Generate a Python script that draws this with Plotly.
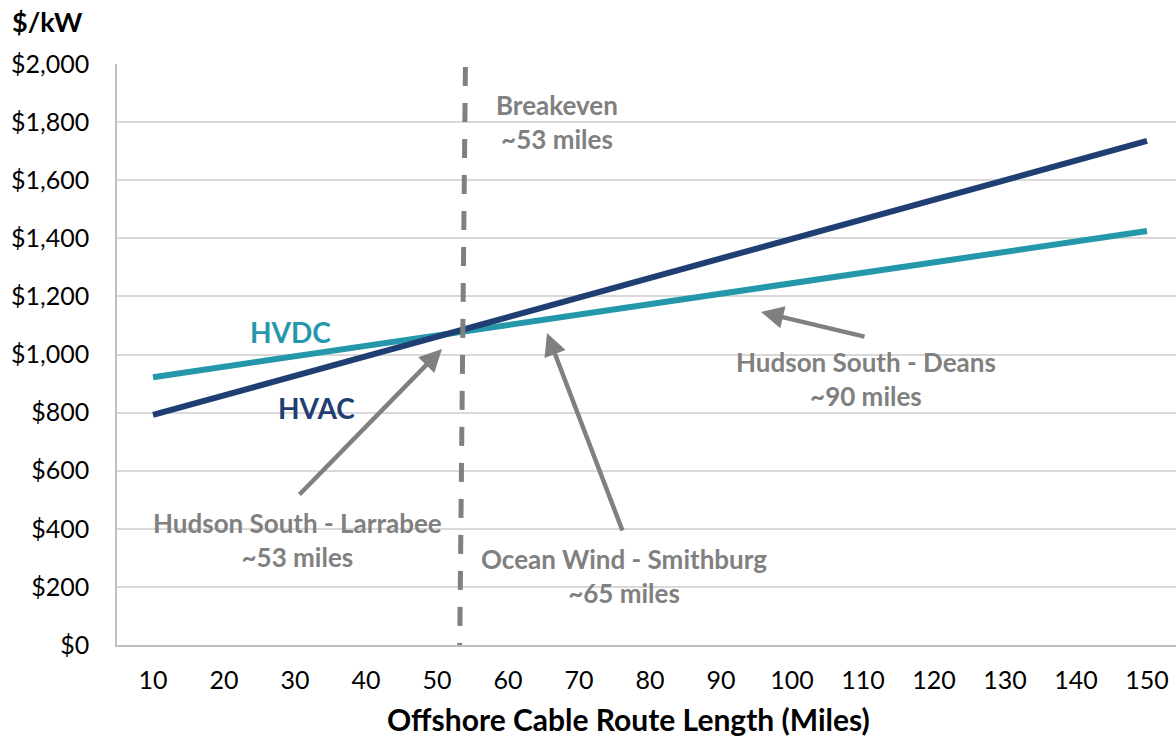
import plotly.graph_objects as go

miles = [10, 20, 30, 40, 50, 60, 70, 80, 90, 100, 110, 120, 130, 140, 150]
hvac = [792, 859, 927, 994, 1061, 1129, 1196, 1263, 1331, 1398, 1465, 1533, 1600, 1667, 1735]
hvdc = [922, 958, 994, 1030, 1066, 1102, 1138, 1174, 1210, 1246, 1282, 1318, 1353, 1389, 1425]
y_ticks = [0, 200, 400, 600, 800, 1000, 1200, 1400, 1600, 1800, 2000]
y_labels = ["$0", "$200", "$400", "$600", "$800", "$1,000", "$1,200", "$1,400", "$1,600", "$1,800", "$2,000"]
breakeven = [54.0, 53.2]

W, H = 1176, 738
L, T, B = 117, 64, 93
x0, x1 = 4.93, 154.08

def px2x(px):
    return x0 + (px - L) / (W - L) * (x1 - x0)

def py2y(py):
    return (645 - py) / (645 - 64) * 2000

def ppx(px):
    return (px - L) / (W - L)

def ppy(py):
    return (H - B - py) / (H - T - B)

NAVY = "#1F3E72"
TEAL = "#2498AA"
GRAY = "#808080"
FONT = "Lato"

fig = go.Figure()
fig.add_trace(go.Scatter(x=miles, y=hvdc, mode="lines", line=dict(color=TEAL, width=6), name="HVDC"))
fig.add_trace(go.Scatter(x=miles, y=hvac, mode="lines", line=dict(color=NAVY, width=6), name="HVAC"))

fig.add_shape(type="line", x0=breakeven[0], x1=breakeven[1], y0=1990, y1=0,
              xref="x", yref="y", line=dict(color=GRAY, width=5, dash="19px,17px"))

anns = []
def text(px, py, s, color=GRAY, size=26):
    anns.append(dict(x=px2x(px), y=py2y(py), xref="x", yref="y", text=s, showarrow=False,
                     font=dict(family=FONT, size=size, color=color), align="center"))

def arrow(tx, ty, hx, hy):
    anns.append(dict(x=px2x(hx), y=py2y(hy), ax=px2x(tx), ay=py2y(ty), xref="x", yref="y",
                     axref="x", ayref="y", text="", showarrow=True, arrowhead=2, arrowsize=1.0,
                     arrowwidth=4.5, arrowcolor=GRAY, standoff=0))

text(557, 122, "<b>Breakeven<br>~53 miles</b>")
text(290, 332, "<b>HVDC</b>", TEAL, 28)
text(316, 408, "<b>HVAC</b>", NAVY, 28)
text(297, 540, "<b>Hudson South - Larrabee<br>~53 miles</b>")
text(624, 576, "<b>Ocean Wind - Smithburg<br>~65 miles</b>")
text(866, 379, "<b>Hudson South - Deans<br>~90 miles</b>")
arrow(298, 496, 442, 349)
arrow(623, 532, 547, 333)
arrow(866, 337, 761, 312)

anns.append(dict(x=ppx(10), y=ppy(22), xref="paper", yref="paper", text="<b>$/kW</b>", showarrow=False,
                 xanchor="left", yanchor="middle", font=dict(family=FONT, size=27, color="black")))
anns.append(dict(x=ppx(628), y=ppy(719), xref="paper", yref="paper",
                 text="<b>Offshore Cable Route Length (Miles)</b>", showarrow=False,
                 xanchor="center", yanchor="middle", font=dict(family=FONT, size=30, color="black")))

fig.update_layout(
    width=W, height=H, margin=dict(l=L, r=0, t=T, b=B, autoexpand=False),
    paper_bgcolor="white", plot_bgcolor="white", showlegend=False,
    annotations=anns,
    font=dict(family=FONT, size=25, color="black"),
)
fig.update_xaxes(range=[x0, x1], tickvals=miles, ticktext=[str(m) for m in miles],
                 showgrid=False, showline=True, linecolor="#BFBFBF", linewidth=1.5,
                 ticks="", ticklen=0, zeroline=False, automargin=False,
                 tickfont=dict(size=25, color="black"), ticklabelstandoff=12)
fig.update_yaxes(range=[0, 2000], tickvals=y_ticks, ticktext=y_labels,
                 showgrid=True, gridcolor="#D9D9D9", gridwidth=1.5,
                 showline=True, linecolor="#BFBFBF", linewidth=1.5, automargin=False,
                 zeroline=False, ticks="", tickfont=dict(size=25, color="black"),
                 ticklabelstandoff=21)

fig.write_html("out.html", config={"displayModeBar": False},
               post_script="document.body.style.margin='0px';document.body.style.overflow='hidden';")
